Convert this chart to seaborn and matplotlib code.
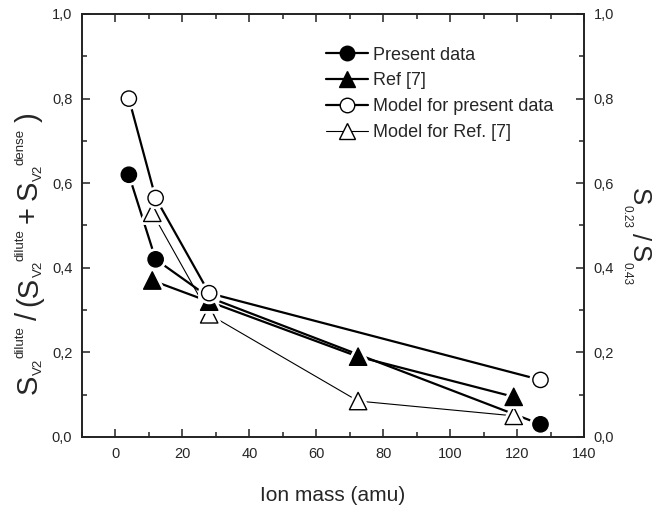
import matplotlib
matplotlib.use("Agg")
import matplotlib.pyplot as plt
import matplotlib.patheffects as pe
from matplotlib.lines import Line2D
from matplotlib.transforms import IdentityTransform
from matplotlib.ticker import FixedLocator, MultipleLocator
import seaborn as sns
import pandas as pd

# ---------------- data ----------------
present_x = [4, 12, 28, 127]
present_y = [0.62, 0.42, 0.33, 0.03]

ref7_x = [11, 28, 72.5, 119]
ref7_y = [0.37, 0.32, 0.19, 0.095]

model_present_x = [4, 12, 28, 127]
model_present_y = [0.80, 0.565, 0.34, 0.135]

model_ref7_x = [11, 28, 72.5, 119]
model_ref7_y = [0.53, 0.29, 0.085, 0.05]

series_names = ["Present data", "Ref [7]", "Model for present data", "Model for Ref. [7]"]

x_ticks = [0, 20, 40, 60, 80, 100, 120, 140]
y_ticks = [0.0, 0.2, 0.4, 0.6, 0.8, 1.0]
y_tick_labels = ["0,0", "0,2", "0,4", "0,6", "0,8", "1,0"]

x_label = "Ion mass (amu)"
# (text, role) pieces of the axis titles: role 0 = normal, -1 = subscript, +1 = superscript
y_label_parts = [("S", 0), ("V2", -1), ("dilute", 1), ("/", 0), ("(S", 0), ("V2", -1),
                 ("dilute", 1), ("+", 0), ("S", 0), ("V2", -1), ("dense", 1), (")", 0)]
y2_label_parts = [("S", 0), ("0.23", -1), ("/", 0), ("S", 0), ("0.43", -1)]

# ---------------- style ----------------
sns.set_style("ticks")
plt.rcParams["font.family"] = ["Liberation Sans", "DejaVu Sans"]

W, H = 663, 507
fig = plt.figure(figsize=(W / 100, H / 100), dpi=100)
ax = fig.add_axes([82 / W, 1 - 437 / H, (584 - 82) / W, (437 - 14) / H])

styles = {
    "Present data": dict(marker="o", face="black", lw=1.6, ms=11),
    "Ref [7]": dict(marker="^", face="black", lw=1.6, ms=12.5),
    "Model for present data": dict(marker="o", face="white", lw=1.6, ms=11),
    "Model for Ref. [7]": dict(marker="^", face="white", lw=0.8, ms=12.5),
}

data = {
    "Present data": (present_x, present_y),
    "Ref [7]": (ref7_x, ref7_y),
    "Model for present data": (model_present_x, model_present_y),
    "Model for Ref. [7]": (model_ref7_x, model_ref7_y),
}
frames = {n: pd.DataFrame({"x": data[n][0], "y": data[n][1]}) for n in series_names}

for n in series_names:
    sns.lineplot(data=frames[n], x="x", y="y", ax=ax, color="black",
                 lw=styles[n]["lw"], sort=False, estimator=None, zorder=2)

draw_order = ["Model for Ref. [7]", "Present data", "Ref [7]", "Model for present data"]
for i, n in enumerate(draw_order):
    st = styles[n]
    sns.scatterplot(data=frames[n], x="x", y="y", ax=ax, marker=st["marker"],
                    s=st["ms"] ** 2, color=st["face"], edgecolor="black",
                    linewidth=1.0, zorder=3 + i, legend=False)
    ax.collections[-1].set_path_effects([pe.Stroke(linewidth=5, foreground="white"), pe.Normal()])

ax.set_xlim(-10, 140)
ax.set_ylim(0, 1.0)
ax.xaxis.set_major_locator(FixedLocator(x_ticks))
ax.xaxis.set_minor_locator(MultipleLocator(10))
ax.yaxis.set_major_locator(FixedLocator(y_ticks))
ax.yaxis.set_minor_locator(MultipleLocator(0.1))
ax.set_yticklabels(y_tick_labels)
ax.set_ylabel("")

for sp in ax.spines.values():
    sp.set_visible(True)
    sp.set_linewidth(1.2)
    sp.set_color("#222222")

ax.tick_params(which="both", direction="in", top=True, right=True, color="#222222",
               labelsize=10.5, width=1.1)
ax.tick_params(which="major", length=6, pad=7)
ax.tick_params(which="minor", length=3.5)

ax.set_xlabel(x_label, fontsize=15)
ax.xaxis.set_label_coords(0.5, -0.115)

ax2 = ax.twinx()
ax2.set_ylim(0, 1.0)
ax2.yaxis.set_major_locator(FixedLocator(y_ticks))
ax2.yaxis.set_minor_locator(MultipleLocator(0.1))
ax2.set_yticklabels(y_tick_labels)
ax2.tick_params(which="both", direction="in", right=True, color="#222222", labelsize=10.5, width=1.1)
ax2.tick_params(which="major", length=6, pad=7)
ax2.tick_params(which="minor", length=3.5)
for sp in ax2.spines.values():
    sp.set_linewidth(1.2)
    sp.set_color("#222222")

# legend
handles = [Line2D([0], [0], color="black", lw=styles[n]["lw"], marker=styles[n]["marker"],
                  markersize=styles[n]["ms"] * 0.95, markerfacecolor=styles[n]["face"],
                  markeredgecolor="black", markeredgewidth=1.0) for n in series_names]
ax.legend(handles, series_names, loc="upper left", bbox_to_anchor=(0.471, 0.94),
          frameon=False, fontsize=13, handlelength=2.35, handletextpad=0.25,
          labelspacing=0.49, borderaxespad=0.0)

# ---------------- rotated axis titles built piece by piece ----------------
renderer = fig.canvas.get_renderer()


def place_rotated(parts, start_y, base_x, rot, main_fs, small_fs, sub_shift, sup_shift, gap):
    """Lay text pieces along a vertical baseline. rot=90 reads upward, rot=270 downward.
    base_x is the baseline x in pixels (from left), start_y the first pixel (from top)."""
    direction = -1 if rot == 90 else 1
    up = -1 if rot == 90 else 1
    pos = start_y
    prev_role = None
    for text, role in parts:
        if prev_role is not None and role == 0:
            pos += direction * gap
        fs = main_fs if role == 0 else small_fs
        shift = 0 if role == 0 else (sup_shift if role > 0 else -sub_shift)
        x = base_x + up * shift
        t = fig.text(x, H - pos, text, transform=IdentityTransform(), rotation=rot,
                     rotation_mode="anchor", ha="left", va="baseline", fontsize=fs)
        bb = t.get_window_extent(renderer)
        pos += direction * bb.height
        prev_role = role
    return pos


place_rotated(y_label_parts, start_y=394, base_x=37, rot=90, main_fs=21, small_fs=9.5,
              sub_shift=5, sup_shift=14, gap=6)
place_rotated(y2_label_parts, start_y=188, base_x=632, rot=270, main_fs=18.5, small_fs=8.5,
              sub_shift=9, sup_shift=0, gap=5)

fig.savefig("out.png", dpi=100)
